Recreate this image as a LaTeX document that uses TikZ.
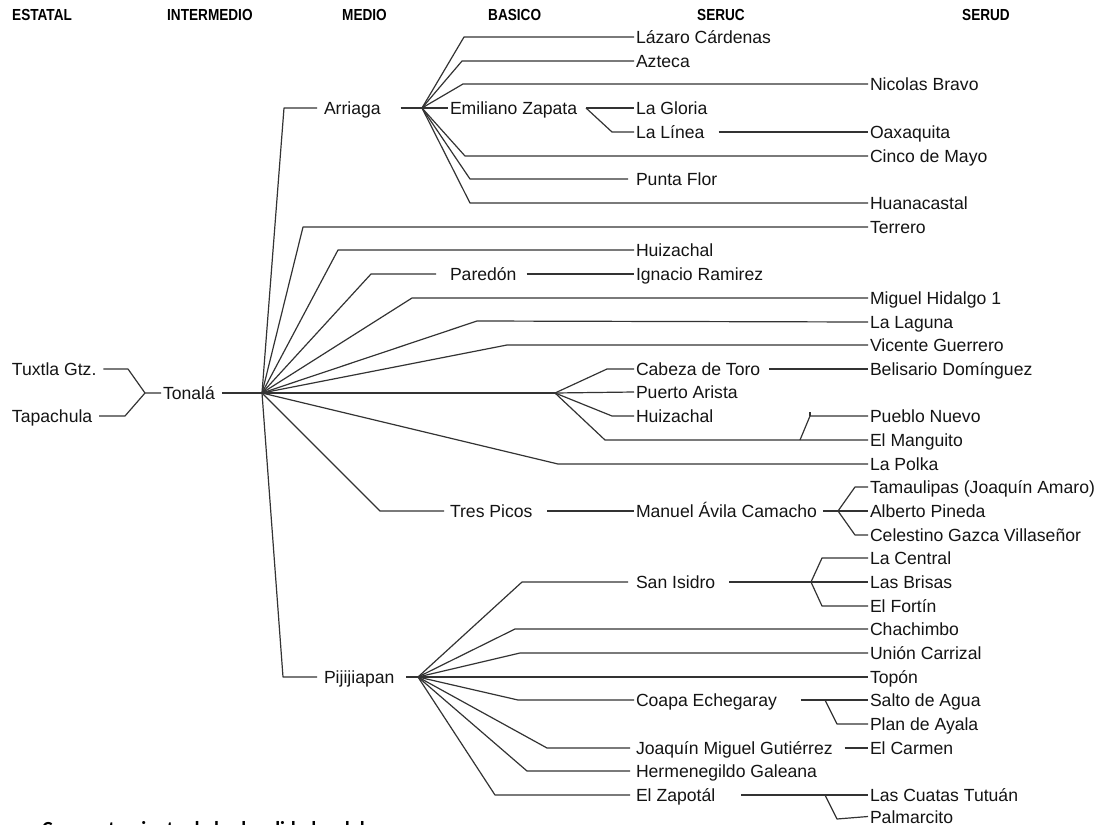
\documentclass[tikz,border=0pt]{standalone}
\usepackage{fontspec}
\setmainfont{Liberation Sans}
\newfontfamily\headfont[FakeStretch=0.85]{Liberation Sans}
\newfontfamily\capfont{Carlito}
\begin{document}
\begin{tikzpicture}[x=1pt,y=-1pt,
  lbl/.style={anchor=west,inner sep=0pt,outer xsep=2pt,text height=15pt,text depth=2.4pt,
    font=\fontsize{17.6}{20}\selectfont,text=black!92},
  hdr/.style={anchor=west,inner sep=0pt,font=\headfont\bfseries\fontsize{16}{18}\selectfont},
  conn/.style={draw=black!80,line width=1.2pt,line join=round}]
\useasboundingbox (0,0) rectangle (1112,825);
% headers
\node[hdr] (hE) at (12,15) {ESTATAL};
\node[hdr] (hI) at (167,15) {INTERMEDIO};
\node[hdr] (hM) at (342,15) {MEDIO};
\node[hdr] (hB) at (488,15) {BASICO};
\node[hdr] (hC) at (697,15) {SERUC};
\node[hdr] (hD) at (962,15) {SERUD};
% estatal / intermedio
\node[lbl] (tuxtla) at (10,369) {Tuxtla Gtz.};
\node[lbl] (tapachula) at (10,416) {Tapachula};
\node[lbl] (tonala) at (161,393) {Tonalá};
% medio
\node[lbl] (arriaga) at (322,108) {Arriaga};
\node[lbl] (pijijiapan) at (322,677) {Pijijiapan};
% basico
\node[lbl] (ezapata) at (448,108) {Emiliano Zapata};
\node[lbl] (paredon) at (448,274) {Paredón};
\node[lbl] (trespicos) at (448,511) {Tres Picos};
% seruc
\node[lbl] (lazaro) at (634,37) {Lázaro Cárdenas};
\node[lbl] (azteca) at (634,61) {Azteca};
\node[lbl] (lagloria) at (634,108) {La Gloria};
\node[lbl] (lalinea) at (634,132) {La Línea};
\node[lbl] (puntaflor) at (634,179) {Punta Flor};
\node[lbl] (huizA) at (634,250) {Huizachal};
\node[lbl] (ignacio) at (634,274) {Ignacio Ramirez};
\node[lbl] (cabeza) at (634,369) {Cabeza de Toro};
\node[lbl] (puerto) at (634,392) {Puerto Arista};
\node[lbl] (huizB) at (634,416) {Huizachal};
\node[lbl] (manuel) at (634,511) {Manuel Ávila Camacho};
\node[lbl] (sanisidro) at (634,582) {San Isidro};
\node[lbl] (coapa) at (634,700) {Coapa Echegaray};
\node[lbl] (joaquin) at (634,748) {Joaquín Miguel Gutiérrez};
\node[lbl] (hermen) at (634,771) {Hermenegildo Galeana};
\node[lbl] (zapotal) at (634,795) {El Zapotál};
% serud
\node[lbl] (nicolas) at (868,84) {Nicolas Bravo};
\node[lbl] (oaxaquita) at (868,132) {Oaxaquita};
\node[lbl] (cinco) at (868,156) {Cinco de Mayo};
\node[lbl] (huanacastal) at (868,203) {Huanacastal};
\node[lbl] (terrero) at (868,227) {Terrero};
\node[lbl] (miguel) at (868,298) {Miguel Hidalgo 1};
\node[lbl] (laguna) at (868,322) {La Laguna};
\node[lbl] (vicente) at (868,345) {Vicente Guerrero};
\node[lbl] (belisario) at (868,369) {Belisario Domínguez};
\node[lbl] (pueblo) at (868,416) {Pueblo Nuevo};
\node[lbl] (manguito) at (868,440) {El Manguito};
\node[lbl] (polka) at (868,464) {La Polka};
\node[lbl] (tamaulipas) at (868,487) {Tamaulipas (Joaquín Amaro)};
\node[lbl] (alberto) at (868,511) {Alberto Pineda};
\node[lbl] (celestino) at (868,535) {Celestino Gazca Villaseñor};
\node[lbl] (central) at (868,558) {La Central};
\node[lbl] (brisas) at (868,582) {Las Brisas};
\node[lbl] (fortin) at (868,606) {El Fortín};
\node[lbl] (chachimbo) at (868,629) {Chachimbo};
\node[lbl] (union) at (868,653) {Unión Carrizal};
\node[lbl] (topon) at (868,677) {Topón};
\node[lbl] (salto) at (868,700) {Salto de Agua};
\node[lbl] (plan) at (868,724) {Plan de Ayala};
\node[lbl] (carmen) at (868,748) {El Carmen};
\node[lbl] (cuatas) at (868,795) {Las Cuatas Tutuán};
\node[lbl,text depth=1pt] (palmarcito) at (868,816.5) {Palmarcito};
% hubs
\coordinate (hT) at (262,393);
\coordinate (hA) at (422,108);
\coordinate (hP) at (555,393);
\coordinate (hJ) at (418,677);
\coordinate (hMn) at (838,511);
\coordinate (hS) at (811,582);
\coordinate (hZ) at (586,108);
% Tuxtla / Tapachula -> Tonala
\draw[conn] ([xshift=5pt]tuxtla.east) -- (128,369) -- (145,393) -- (tonala.west);
\draw[conn] ([xshift=5pt]tapachula.east) -- (125,416) -- (145,393);
\draw[conn] ([xshift=5pt]tonala.east) -- (hT);
% Tonala children
\draw[conn] (hT) -- (284,108) -- ([xshift=-5pt]arriaga.west);
\draw[conn] (hT) -- (303,227) -- (terrero.west);
\draw[conn] (hT) -- (338,250) -- (huizA.west);
\draw[conn] (hT) -- (371,274) -- ([xshift=-12pt]paredon.west);
\draw[conn] ([xshift=8pt]paredon.east) -- (ignacio.west);
\draw[conn] (hT) -- (412,298) -- (miguel.west);
\draw[conn] (hT) -- (477,321) -- (laguna.west);
\draw[conn] (hT) -- (507,345) -- (vicente.west);
\draw[conn] (hT) -- (hP);
\draw[conn] (hT) -- (558,464) -- (polka.west);
\draw[conn] (hT) -- (380,511) -- ([xshift=-4pt]trespicos.west);
\draw[conn] ([xshift=13pt]trespicos.east) -- (manuel.west);
\draw[conn] (hT) -- (283,677) -- ([xshift=-5pt]pijijiapan.west);
% sub hub
\draw[conn] (hP) -- (607,369) -- (cabeza.west);
\draw[conn] (hP) -- (puerto.west);
\draw[conn] (hP) -- (612,416) -- (huizB.west);
\draw[conn] (hP) -- (605,440) -- (manguito.west);
\draw[conn] (800,440) -- (810,416) -- (pueblo.west);
\draw[conn] (810,416) -- (810,412);
\draw[conn] ([xshift=7pt]cabeza.east) -- (belisario.west);
% Manuel Avila Camacho
\draw[conn] ([xshift=4pt]manuel.east) -- (hMn);
\draw[conn] (hMn) -- (855,487) -- (tamaulipas.west);
\draw[conn] (hMn) -- (alberto.west);
\draw[conn] (hMn) -- (855,535) -- (celestino.west);
% Arriaga
\draw[conn] ([xshift=18pt]arriaga.east) -- (hA);
\draw[conn] (hA) -- (464,37) -- (lazaro.west);
\draw[conn] (hA) -- (462,61) -- (azteca.west);
\draw[conn] (hA) -- (463,84) -- (nicolas.west);
\draw[conn] (hA) -- (ezapata.west);
\draw[conn] (hA) -- (465,156) -- (cinco.west);
\draw[conn] (hA) -- (470,179) -- ([xshift=-6pt]puntaflor.west);
\draw[conn] (hA) -- (470,203) -- (huanacastal.west);
\draw[conn] (hZ) -- (lagloria.west);
\draw[conn] (hZ) -- (612,132) -- (lalinea.west);
\draw[conn] ([xshift=12pt]lalinea.east) -- (oaxaquita.west);
% Pijijiapan
\draw[conn] ([xshift=10pt]pijijiapan.east) -- (hJ);
\draw[conn] (hJ) -- (522,582) -- ([xshift=-6pt]sanisidro.west);
\draw[conn] ([xshift=12pt]sanisidro.east) -- (hS);
\draw[conn] (hS) -- (822,558) -- (central.west);
\draw[conn] (hS) -- (brisas.west);
\draw[conn] (hS) -- (822,606) -- (fortin.west);
\draw[conn] (hJ) -- (515,629) -- (chachimbo.west);
\draw[conn] (hJ) -- (520,653) -- (union.west);
\draw[conn] (hJ) -- (topon.west);
\draw[conn] (hJ) -- (518,700) -- (coapa.west);
\draw[conn] ([xshift=22pt]coapa.east) -- (salto.west);
\draw[conn] (825,700) -- (837,724) -- (plan.west);
\draw[conn] (hJ) -- (547,748) -- ([xshift=-4pt]joaquin.west);
\draw[conn] ([xshift=10pt]joaquin.east) -- (carmen.west);
\draw[conn] (hJ) -- (527,771) -- ([xshift=-4pt]hermen.west);
\draw[conn] (hJ) -- (495,795) -- ([xshift=-4pt]zapotal.west);
\draw[conn] ([xshift=24pt]zapotal.east) -- (cuatas.west);
\draw[conn] (825,795) -- (837,819) -- (palmarcito.west);
% caption cut off at the bottom, as in the reference
\node[anchor=base west,inner sep=0pt,font=\capfont\bfseries\fontsize{20}{24}\selectfont] (cap) at (42,835) {Comportamiento de las localidades del};
\end{tikzpicture}
\end{document}
